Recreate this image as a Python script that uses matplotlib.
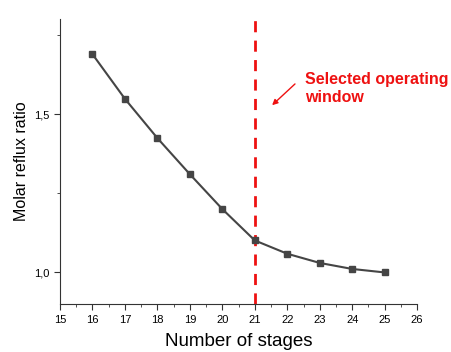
import matplotlib.pyplot as plt
from matplotlib.ticker import MultipleLocator, FuncFormatter

plt.rcParams['font.family'] = ['Liberation Sans', 'DejaVu Sans']

# Data
stages = [16, 17, 18, 19, 20, 21, 22, 23, 24, 25]
reflux = [1.689, 1.548, 1.424, 1.310, 1.200, 1.101, 1.059, 1.030, 1.011, 1.000]
selected_stage = 21

fig = plt.figure(figsize=(4.51, 3.52), dpi=100)
ax = fig.add_axes([0.133, 0.136, 0.792, 0.810])

ax.plot(stages, reflux, color='#454545', lw=1.5, marker='s', ms=4.5, zorder=3)
ax.axvline(selected_stage, color='#ee1111', lw=2, ls=(0, (4, 3)), zorder=2)

ax.annotate('', xy=(21.47, 1.522), xytext=(22.30, 1.601),
            arrowprops=dict(arrowstyle='-|>', color='#ee1111', lw=1.0, mutation_scale=8))
ax.text(22.55, 1.632, 'Selected operating\nwindow', color='#ee1111',
        fontsize=11.5, fontweight='bold', va='top', ha='left', linespacing=1.2)

ax.set_xlim(15, 26)
ax.set_ylim(0.9, 1.8)
ax.xaxis.set_major_locator(MultipleLocator(1))
ax.xaxis.set_minor_locator(MultipleLocator(0.5))
ax.yaxis.set_major_locator(MultipleLocator(0.5))
ax.yaxis.set_minor_locator(MultipleLocator(0.25))
ax.yaxis.set_major_formatter(FuncFormatter(lambda v, p: f'{v:.1f}'.replace('.', ',')))

for s in ['top', 'right']:
    ax.spines[s].set_visible(False)
for s in ['left', 'bottom']:
    ax.spines[s].set_color('#333333')
ax.tick_params(which='major', direction='out', length=4, labelsize=8, colors='#333333',
               labelcolor='black')
ax.tick_params(which='minor', direction='out', length=2, colors='#333333')

ax.set_xlabel('Number of stages', fontsize=13.5, labelpad=6)
ax.set_ylabel('Molar reflux ratio', fontsize=11.5, labelpad=4)

plt.savefig('out.png', dpi=100)
